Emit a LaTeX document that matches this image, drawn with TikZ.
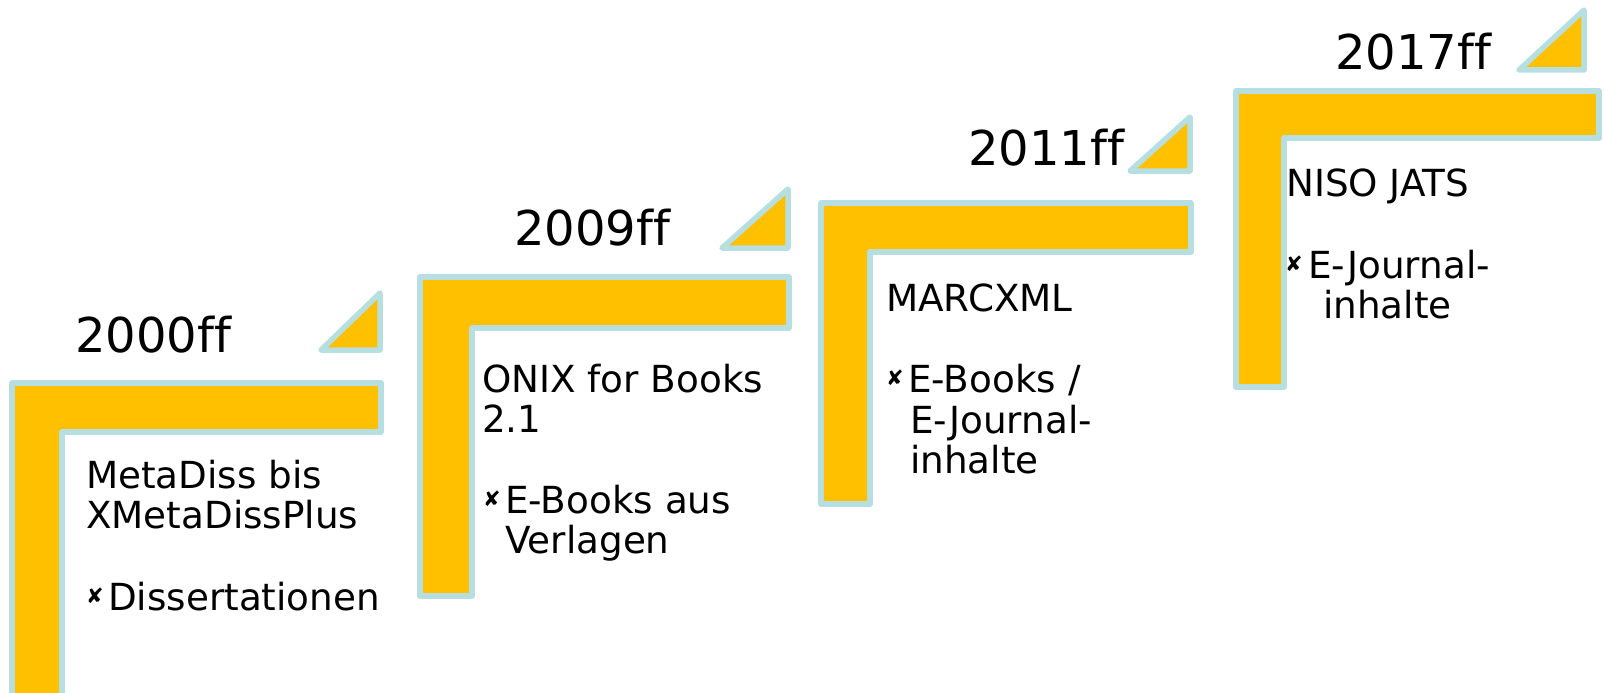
\documentclass[tikz,border=0pt]{standalone}
\usepackage{fontspec}
\setmainfont[Ligatures={NoCommon}]{DejaVu Sans}
\definecolor{stepfill}{HTML}{FFC000}
\definecolor{stepline}{HTML}{B7DFE2}
\begin{document}
\begin{tikzpicture}[x=1pt,y=-1pt,
  lshape/.style={fill=stepfill,draw=stepline,line width=5.5pt,line join=round},
  tri/.style={fill=stepfill,draw=stepline,line width=5.5pt,line join=round},
  year/.style={anchor=base west,inner sep=0pt,font=\fontsize{48}{50}\selectfont},
  body/.style={anchor=base west,inner sep=0pt,font=\fontsize{37.3}{40}\selectfont},
  bul/.style={anchor=center,inner sep=0pt,font=\fontsize{21}{21}\selectfont}]
\useasboundingbox (0,0) rectangle (1604,693);
% L shapes
\draw[lshape] (12,383) -- (381,383) -- (381,432) -- (62,432) -- (62,705) -- (12,705) -- cycle;
\draw[lshape] (420,277) -- (789,277) -- (789,328) -- (472,328) -- (472,596) -- (420,596) -- cycle;
\draw[lshape] (821,203) -- (1191,203) -- (1191,252) -- (870,252) -- (870,504) -- (821,504) -- cycle;
\draw[lshape] (1236,91) -- (1599,91) -- (1599,138) -- (1284,138) -- (1284,387) -- (1236,387) -- cycle;
% triangles
\draw[tri] (380,293) -- (321,350) -- (380,350) -- cycle;
\draw[tri] (788,189) -- (722,248) -- (788,248) -- cycle;
\draw[tri] (1190,117) -- (1130,171) -- (1190,171) -- cycle;
\draw[tri] (1584,10) -- (1519,70) -- (1584,70) -- cycle;
% years
\node[year] (y1) at (75,352) {2000ff};
\node[year] (y2) at (514,245) {2009ff};
\node[year] (y3) at (968,165) {2011ff};
\node[year] (y4) at (1335,70) {2017ff};
% step 1
\node[body] (a1) at (86,488) {MetaDiss bis};
\node[body] (a2) at (86,528) {XMetaDissPlus};
\node[bul] (ab) at (95,596) {✘};
\node[body] (a3) at (108,610) {Dissertationen};
% step 2
\node[body] (b1) at (482,392) {ONIX for Books};
\node[body] (b2) at (482,432) {2.1};
\node[bul] (bb) at (492,499) {✘};
\node[body] (b3) at (505,513) {E-Books aus};
\node[body] (b4) at (505,553) {Verlagen};
% step 3
\node[body] (c1) at (886,311) {MARCXML};
\node[bul] (cb) at (895,378) {✘};
\node[body] (c3) at (908,392) {E-Books /};
\node[body] (c4) at (910,433) {E-Journal-};
\node[body] (c5) at (910,473) {inhalte};
% step 4
\node[body] (d1) at (1286,196) {NISO JATS};
\node[bul] (db) at (1294,264) {✘};
\node[body] (d2) at (1308,278) {E-Journal-};
\node[body] (d3) at (1323,318) {inhalte};
\end{tikzpicture}
\end{document}
